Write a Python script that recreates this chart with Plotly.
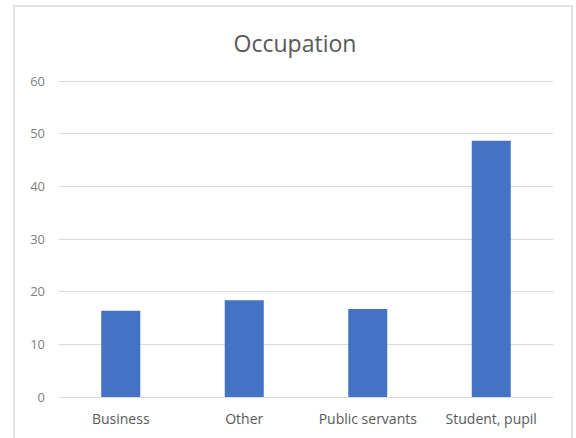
import plotly.graph_objects as go

# Occupation breakdown (per cent of respondents)
categories = ["Business", "Other", "Public servants", "Student, pupil"]
values = [16.4, 18.4, 16.7, 48.7]
y_ticks = [0, 10, 20, 30, 40, 50, 60]

W, H = 576, 438
L, R, T, B = 59, 23, 76, 41
pw, ph = W - L - R, H - T - B
FONT = "Open Sans, Lato, sans-serif"

fig = go.Figure(
    go.Bar(
        x=categories,
        y=values,
        marker=dict(color="#4472C4", line=dict(width=0)),
        hoverinfo="x+y",
    )
)

# light frame around the whole chart area
def px_x(p):
    return (p - L) / pw

def px_y(p):
    return (H - B - p) / ph

fig.add_shape(
    type="rect", xref="paper", yref="paper",
    x0=px_x(14), x1=px_x(572), y0=px_y(445), y1=px_y(6),
    line=dict(color="#d9d9d9", width=1.5), fillcolor="rgba(0,0,0,0)", layer="below",
)

fig.update_layout(
    width=W, height=H,
    margin=dict(l=L, r=R, t=T, b=B, pad=0),
    paper_bgcolor="white", plot_bgcolor="white",
    bargap=0.684,
    showlegend=False,
    title=dict(
        text="Occupation", x=295 / W, xanchor="center",
        y=1 - 44 / H, yanchor="middle", yref="container",
        font=dict(family=FONT, size=23, color="#595959"),
    ),
    font=dict(family=FONT, color="#595959"),
)

fig.update_xaxes(
    showgrid=False, showline=True, linecolor="#d9d9d9", linewidth=1,
    ticks="", ticklabelstandoff=9, automargin=False,
    tickfont=dict(size=14, color="#595959"),
)
fig.update_yaxes(
    range=[0, 61], tickvals=y_ticks, showgrid=True, gridcolor="#d9d9d9", gridwidth=1,
    zeroline=True, zerolinecolor="#d9d9d9", zerolinewidth=1, showline=False,
    ticks="", ticklabelstandoff=13, automargin=False,
    tickfont=dict(size=13, color="#7f7f7f"),
)

fig.write_html("out.html")
